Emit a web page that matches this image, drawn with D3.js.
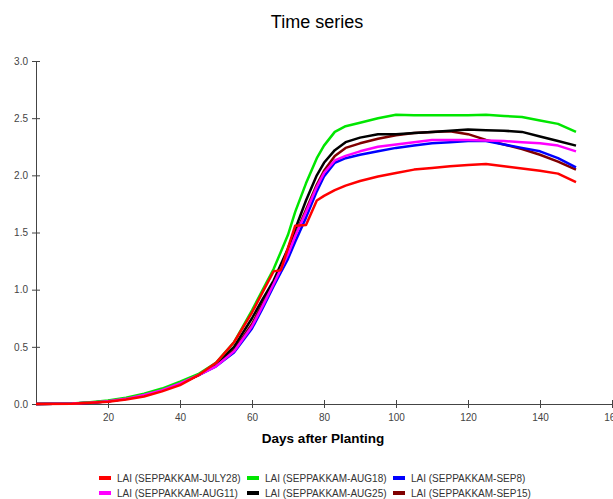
<!DOCTYPE html>
<html lang="en">
<head>
    <style>
        body { margin: 0; background: white; }
        svg { font-family: "Liberation Sans", Arial, sans-serif; }
        .tick text { fill: #444; font-size: 10px; }
        .domain, .tick line { stroke: #444; }
    </style>
    <script src="https://d3js.org/d3.v7.min.js"></script>
</head>
<body>
    <svg id="chart" width="613" height="499"></svg>

    <script>
        // Days after planting (sampling points)
        const days = [0, 10, 15, 20, 25, 30, 35, 40, 45, 50, 55, 60, 63, 66, 68, 70, 72, 75, 78, 80,
                      83, 86, 90, 95, 100, 105, 110, 115, 120, 125, 130, 135, 140, 145, 150];

        const laiJuly28 = [0, 0.003, 0.01, 0.02, 0.04, 0.065, 0.11, 0.165, 0.25, 0.36, 0.54, 0.80, 0.98, 1.16, 1.17, 1.365, 1.56, 1.565, 1.78, 1.82,
                           1.87, 1.91, 1.95, 1.99, 2.02, 2.05, 2.065, 2.08, 2.09, 2.10, 2.08, 2.06, 2.04, 2.015, 1.94];
        const laiAug11  = [0, 0.004, 0.01, 0.025, 0.045, 0.08, 0.12, 0.18, 0.25, 0.33, 0.46, 0.68, 0.86, 1.05, 1.18, 1.31, 1.47, 1.68, 1.90, 2.02,
                           2.13, 2.17, 2.21, 2.25, 2.27, 2.29, 2.31, 2.31, 2.31, 2.305, 2.30, 2.29, 2.28, 2.26, 2.21];
        const laiAug18  = [0, 0.005, 0.015, 0.03, 0.055, 0.09, 0.135, 0.195, 0.26, 0.36, 0.54, 0.82, 1.0, 1.18, 1.33, 1.48, 1.68, 1.93, 2.15, 2.26,
                           2.38, 2.43, 2.46, 2.50, 2.53, 2.525, 2.525, 2.525, 2.525, 2.53, 2.52, 2.51, 2.48, 2.45, 2.38];
        const laiAug25  = [0, 0.004, 0.01, 0.025, 0.045, 0.08, 0.12, 0.18, 0.25, 0.35, 0.50, 0.75, 0.92, 1.08, 1.22, 1.36, 1.53, 1.78, 2.0, 2.11,
                           2.22, 2.29, 2.33, 2.36, 2.36, 2.37, 2.38, 2.39, 2.40, 2.395, 2.39, 2.38, 2.34, 2.30, 2.26];
        const laiSep8   = [0, 0.004, 0.01, 0.025, 0.045, 0.08, 0.12, 0.18, 0.25, 0.33, 0.45, 0.66, 0.84, 1.03, 1.15, 1.27, 1.42, 1.63, 1.86, 1.99,
                           2.11, 2.15, 2.18, 2.21, 2.24, 2.26, 2.28, 2.29, 2.30, 2.30, 2.27, 2.24, 2.21, 2.15, 2.07];
        const laiSep15  = [0, 0.004, 0.01, 0.025, 0.045, 0.08, 0.12, 0.18, 0.25, 0.34, 0.47, 0.70, 0.88, 1.05, 1.18, 1.32, 1.48, 1.70, 1.92, 2.04,
                           2.17, 2.24, 2.28, 2.32, 2.35, 2.37, 2.38, 2.385, 2.36, 2.31, 2.27, 2.23, 2.18, 2.12, 2.05];

        const seriesNames = ["LAI (SEPPAKKAM-JULY28)", "LAI (SEPPAKKAM-AUG11)", "LAI (SEPPAKKAM-AUG18)",
                             "LAI (SEPPAKKAM-AUG25)", "LAI (SEPPAKKAM-SEP8)", "LAI (SEPPAKKAM-SEP15)"];
        const seriesValues = [laiJuly28, laiAug11, laiAug18, laiAug25, laiSep8, laiSep15];
        const seriesColors = ["#ff0000", "#ff00ff", "#00e600", "#000000", "#0000ff", "#800000"];

        const xTicks = [20, 40, 60, 80, 100, 120, 140, 160];
        const yTicks = [0, 0.5, 1.0, 1.5, 2.0, 2.5, 3.0];

        const svg = d3.select("#chart");

        const x = d3.scaleLinear().domain([0, 160]).range([36, 612]);
        const y = d3.scaleLinear().domain([0, 3]).range([404, 61]);

        // Title
        svg.append("text")
            .attr("x", 317).attr("y", 28)
            .attr("text-anchor", "middle")
            .style("font-size", "18px")
            .text("Time series");

        // Axes (ticks cross the axis line)
        const xAxis = svg.append("g")
            .attr("transform", `translate(0,${y(0)})`)
            .call(d3.axisBottom(x).tickValues(xTicks).tickSizeInner(4).tickSizeOuter(0).tickPadding(6));
        xAxis.selectAll(".tick line").attr("y1", -4);

        const yAxis = svg.append("g")
            .attr("transform", `translate(${x(0)},0)`)
            .call(d3.axisLeft(y).tickValues(yTicks).tickFormat(d3.format(".1f")).tickSizeInner(4).tickSizeOuter(0).tickPadding(4));
        yAxis.selectAll(".tick line").attr("x1", 4);

        svg.append("text")
            .attr("x", 323).attr("y", 443)
            .attr("text-anchor", "middle")
            .style("font-size", "13.5px")
            .style("font-weight", "bold")
            .text("Days after Planting");

        // Lines, earliest planting drawn last so it sits on top
        const line = d3.line()
            .x((d, i) => x(days[i]))
            .y(d => y(d));

        const order = d3.range(seriesValues.length).reverse();
        svg.append("g").selectAll("path")
            .data(order)
            .join("path")
            .attr("d", i => line(seriesValues[i]))
            .attr("fill", "none")
            .attr("stroke", i => seriesColors[i])
            .attr("stroke-width", 2.5)
            .attr("stroke-linejoin", "round");

        // Legend: 3 columns x 2 rows, filled column by column
        const legendX = [99, 247, 393];
        const legendY = [478, 493];
        const legend = svg.append("g").selectAll("g")
            .data(seriesNames)
            .join("g")
            .attr("transform", (d, i) => `translate(${legendX[Math.floor(i / 2)]},${legendY[i % 2]})`);
        legend.append("rect")
            .attr("x", 0).attr("y", -2)
            .attr("width", 12).attr("height", 4)
            .attr("fill", (d, i) => seriesColors[i]);
        legend.append("text")
            .attr("x", 18).attr("y", 4)
            .style("font-size", "10px")
            .attr("fill", "#333")
            .text(d => d);
    </script>
</body>
</html>
